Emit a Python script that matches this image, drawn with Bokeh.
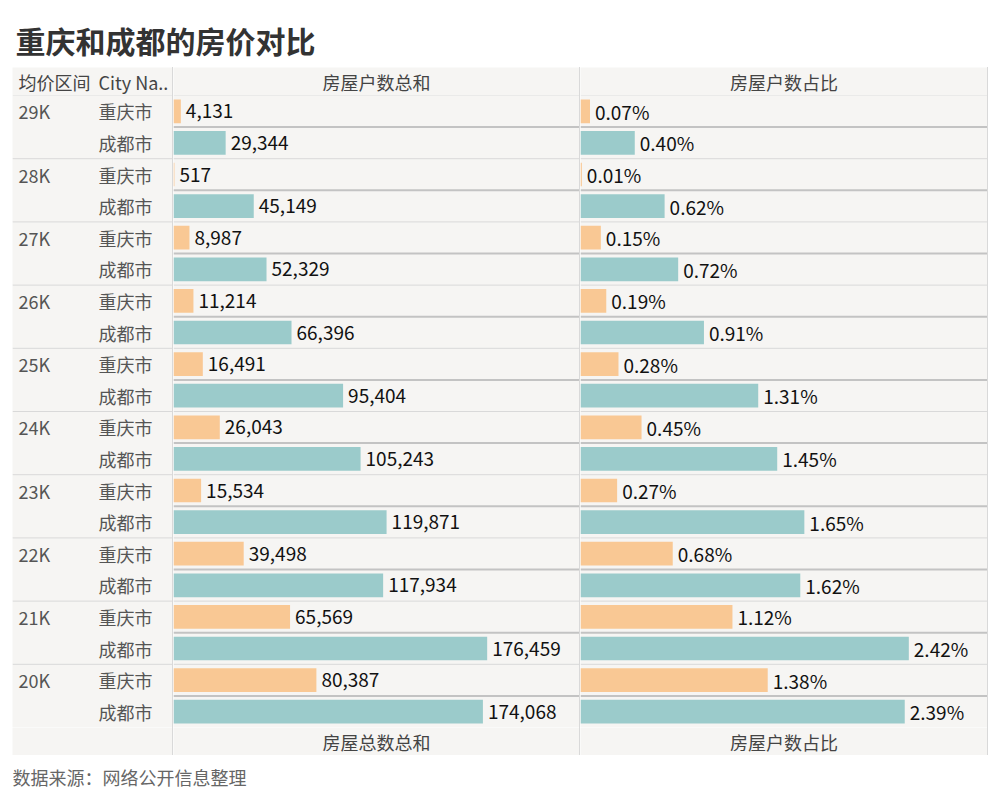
from bokeh.plotting import figure
from bokeh.models import ColumnDataSource, FactorRange, Range1d, Span, Spacer
from bokeh.layouts import column, row
from bokeh.embed import file_html
from bokeh.resources import INLINE
from bokeh.core.properties import value

# ---------------- data ----------------
title_text = "重庆和成都的房价对比"
source_text = "数据来源：网络公开信息整理"
row_headers = ["均价区间", "City Na.."]
col_headers = ["房屋户数总和", "房屋户数占比"]
col_footers = ["房屋总数总和", "房屋户数占比"]
price_bands = ["29K", "28K", "27K", "26K", "25K", "24K", "23K", "22K", "21K", "20K"]
cities = ["重庆市", "成都市"]
cq_count = [4131, 517, 8987, 11214, 16491, 26043, 15534, 39498, 65569, 80387]
cd_count = [29344, 45149, 52329, 66396, 95404, 105243, 119871, 117934, 176459, 174068]
cq_pct = [0.07, 0.01, 0.15, 0.19, 0.28, 0.45, 0.27, 0.68, 1.12, 1.38]
cd_pct = [0.40, 0.62, 0.72, 0.91, 1.31, 1.45, 1.65, 1.62, 2.42, 2.39]

# ---------------- style ----------------
FONT = "Noto Sans CJK SC"
BG = "#f6f5f3"
ORANGE = "#f9c894"
TEAL = "#9bcbcb"
THIN = "#d9d9d9"
THICK = "#c3c3c3"
HDR = 28
FRAME_H = 632
TOTAL_H = FRAME_H + 2 * HDR

# factors: bottom first
factors = []
for p in reversed(price_bands):
    factors.append((p, cities[1]))
    factors.append((p, cities[0]))

ys, counts, pcts, colors, cnt_lbl, pct_lbl, price_lbl, city_lbl = [], [], [], [], [], [], [], []
for i, p in enumerate(price_bands):
    for city, c, pc, col in ((cities[0], cq_count[i], cq_pct[i], ORANGE),
                             (cities[1], cd_count[i], cd_pct[i], TEAL)):
        ys.append((p, city))
        counts.append(c)
        pcts.append(pc)
        colors.append(col)
        cnt_lbl.append(f"{c:,}")
        pct_lbl.append(f"{pc:.2f}%")
        price_lbl.append(p if city == cities[0] else "")
        city_lbl.append(city)

src = ColumnDataSource(dict(y=ys, count=counts, pct=pcts, color=colors,
                            cnt_lbl=cnt_lbl, pct_lbl=pct_lbl,
                            price_lbl=price_lbl, city_lbl=city_lbl))


def plain_fig(width, height, bg):
    p = figure(width=width, height=height, x_range=Range1d(0, width), y_range=Range1d(0, height),
               x_axis_location=None, y_axis_location=None, toolbar_location=None,
               output_backend="svg", min_border=0, outline_line_color=None,
               background_fill_color=bg, border_fill_color=bg)
    p.grid.visible = False
    return p


def cell_fig(width, texts, xs, align):
    p = plain_fig(width, HDR, BG)
    p.text(x=xs, y=[HDR / 2] * len(xs), text=texts, text_align=align, text_baseline="middle",
           text_font=value(FONT), text_font_size="18px", text_color="#444444")
    return p


def body_fig(width, x_range):
    p = figure(width=width, height=FRAME_H,
               y_range=FactorRange(*factors, factor_padding=0, group_padding=0,
                                   subgroup_padding=0, range_padding=0),
               x_range=x_range, x_axis_location=None, y_axis_location=None,
               toolbar_location=None, output_backend="svg",
               min_border=0,
               background_fill_color=BG, border_fill_color=BG,
               outline_line_color=None)
    p.grid.visible = False
    return p


def add_spans(p, with_inner):
    n = len(factors)
    for k in range(0, n + 1):
        if k % 2 == 0:
            p.add_layout(Span(location=k, dimension="width", line_color=THIN, line_width=1))
        elif with_inner:
            p.add_layout(Span(location=k, dimension="width", line_color=THICK, line_width=2))


# ---------------- label column ----------------
fl = body_fig(160, Range1d(0, 160))
fl.text(x=6, y="y", text="price_lbl", source=src, text_baseline="middle",
        text_font=value(FONT), text_font_size="18px", text_color="#555555")
fl.text(x=86, y="y", text="city_lbl", source=src, text_baseline="middle",
        text_font=value(FONT), text_font_size="18px", text_color="#555555")
add_spans(fl, False)
col_l = column(cell_fig(160, row_headers, [6, 86], "left"), fl, cell_fig(160, [""], [0], "left"))


def panel(width, xmax, field, lbl, header, footer):
    p = body_fig(width, Range1d(0, xmax))
    p.hbar(y="y", left=0, right=field, height=0.75, fill_color="color",
           line_color=None, source=src)
    p.text(x=field, y="y", text=lbl, source=src, x_offset=5,
           text_baseline="middle", text_font=value(FONT),
           text_font_size="19px", text_color="#111111")
    add_spans(p, True)
    return column(cell_fig(width, [header], [width / 2], "center"), p,
                  cell_fig(width, [footer], [width / 2], "center"))


col_1 = panel(406, 228400, "count", "cnt_lbl", col_headers[0], col_footers[0])
col_2 = panel(407, 3.0, "pct", "pct_lbl", col_headers[1], col_footers[1])


def vline():
    return Spacer(width=1, height=TOTAL_H, styles={"background-color": THIN})


# ---------------- title & source ----------------
ft = plain_fig(988, 67, "#ffffff")
ft.text(x=[15], y=[28], text=[title_text], text_baseline="middle",
        text_font=value(FONT), text_font_size="30px", text_font_style="bold",
        text_color="#333333")

fs = plain_fig(988, 40, "#ffffff")
fs.text(x=[12], y=[19], text=[source_text], text_baseline="middle",
        text_font=value(FONT), text_font_size="18px", text_color="#666666")

layout = column(ft,
                row(Spacer(width=12, height=TOTAL_H), col_l, vline(), col_1, vline(), col_2, vline()),
                fs)

open("out.html", "w").write(file_html(layout, INLINE, title=title_text))
